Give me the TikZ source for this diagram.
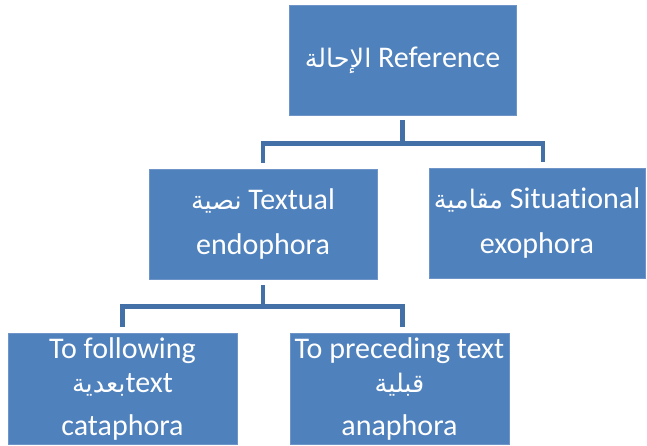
\documentclass[tikz,border=0pt]{standalone}
\usepackage{fontspec}
\setmainfont{Carlito}[Ligatures={NoCommon}]
\newfontfamily\arabicfont[Script=Arabic,Scale=0.85]{DejaVu Sans}
\TeXXeTstate=1
\newcommand{\artext}[1]{{\arabicfont\beginR #1\endR}}

\definecolor{boxfill}{HTML}{4F81BD}
\definecolor{boxline}{HTML}{6F95C8}
\definecolor{linkcol}{HTML}{4470A8}

\tikzset{
  box/.style={draw=boxline, line width=0.8pt, fill=boxfill, text=white,
    font=\fontsize{30}{34}\selectfont, align=center, inner sep=0pt},
  link/.style={draw=linkcol, line width=4.5pt, line join=miter},
}

\begin{document}
\begin{tikzpicture}[x=1pt,y=-1pt]
\useasboundingbox (0,0) rectangle (647,446);

% boxes
\node[box, minimum width=227, minimum height=110] (ref) at (402.5,60) {\artext{الإحالة} Reference};
\node[box, minimum width=228, minimum height=110] (tex) at (263,224) {\artext{نصية} Textual\\[11pt]endophora};
\node[box, minimum width=216, minimum height=110] (sit) at (537,223) {\artext{مقامية} Situational\\[11pt]exophora};
\node[box, minimum width=229, minimum height=111] (fol) at (122.5,388.5) {To following\\\artext{بعدية}text\\[9pt]cataphora};
\node[box, minimum width=219, minimum height=111] (pre) at (399.5,388.5) {To preceding text\\\artext{قبلية}\\[9pt]anaphora};

% connectors
\draw[link] ([yshift=-5pt]ref.south) -- ++(0,23) coordinate (topfork);
\draw[link] ([yshift=6pt]tex.north) |- (topfork) -| ([xshift=6pt,yshift=6pt]sit.north);
\draw[link] ([yshift=-6pt]tex.south) -- ++(0,21) coordinate (lowfork);
\draw[link] ([yshift=6pt]fol.north) |- (lowfork) -| ([xshift=3pt,yshift=6pt]pre.north);

\end{tikzpicture}
\end{document}
